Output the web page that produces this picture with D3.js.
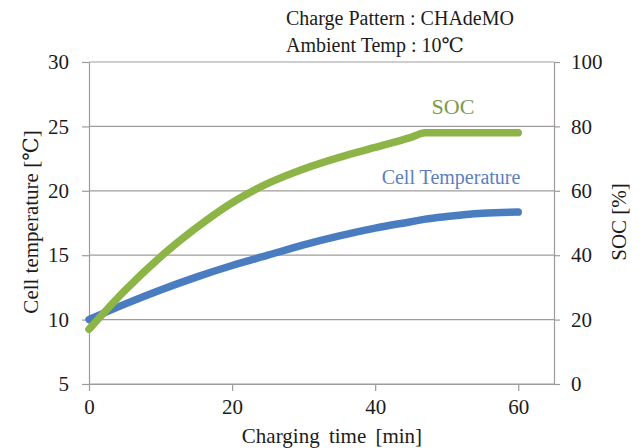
<!DOCTYPE html>
<html>
<head>
<meta charset="utf-8">
<script src="https://cdn.jsdelivr.net/npm/d3@7"></script>
<style>
  body { margin: 0; background: #fff; }
  text { font-family: "Liberation Serif", "DejaVu Serif", serif; fill: #1c1c1c; }
</style>
</head>
<body>
<div id="chart"></div>
<script>
// charging time [min]
const timeMin = [0, 5, 10, 15, 20, 25, 30, 35, 40, 45, 47, 50, 55, 60];
// SOC [%] (right axis)
const socPct = [17, 29, 39.5, 48.5, 56.3, 62.3, 66.8, 70.4, 73.5, 76.6, 78, 78, 78, 78];
// cell temperature [degC] (left axis)
const cellTemp = [10, 11.2, 12.3, 13.3, 14.2, 15.0, 15.8, 16.5, 17.1, 17.6, 17.8, 18.0, 18.25, 18.35];

const leftTicks = [5, 10, 15, 20, 25, 30];
const rightTicks = [0, 20, 40, 60, 80, 100];
const xTicks = [0, 20, 40, 60];

const W = 644, H = 448;
const margin = { top: 62, right: 90, bottom: 64, left: 89 };
const width = W - margin.left - margin.right;
const height = H - margin.top - margin.bottom;

const svg = d3.select('#chart').append('svg')
  .attr('width', W).attr('height', H);

const g = svg.append('g')
  .attr('transform', `translate(${margin.left},${margin.top})`);

const x = d3.scaleLinear().domain([0, 65]).range([0, width]);
const yL = d3.scaleLinear().domain([5, 30]).range([height, 0]);
const yR = d3.scaleLinear().domain([0, 100]).range([height, 0]);

const gridColor = '#9f9b9b';

// horizontal gridlines
g.selectAll('.grid')
  .data(leftTicks)
  .enter().append('line')
  .attr('x1', 0).attr('x2', width)
  .attr('y1', d => yL(d)).attr('y2', d => yL(d))
  .attr('stroke', gridColor).attr('stroke-width', 1.2);

function styleAxis(sel) {
  sel.attr('font-family', null);
  sel.select('.domain').attr('stroke', gridColor).attr('stroke-width', 1.2);
  sel.selectAll('.tick line').attr('stroke', gridColor).attr('stroke-width', 1.2);
  sel.selectAll('.tick text').attr('font-size', 21);
}

g.append('g')
  .call(d3.axisLeft(yL).tickValues(leftTicks).tickSize(7).tickSizeOuter(0).tickPadding(13))
  .call(styleAxis);

g.append('g')
  .attr('transform', `translate(${width},0)`)
  .call(d3.axisRight(yR).tickValues(rightTicks).tickSize(6).tickSizeOuter(0).tickPadding(11))
  .call(styleAxis);

g.append('g')
  .attr('transform', `translate(0,${height})`)
  .call(d3.axisBottom(x).tickValues(xTicks).tickSize(7).tickSizeOuter(0).tickPadding(8))
  .call(styleAxis);

const socLine = d3.line()
  .x((d, i) => x(timeMin[i]))
  .y(d => yR(d))
  .curve(d3.curveMonotoneX);

const tempLine = d3.line()
  .x((d, i) => x(timeMin[i]))
  .y(d => yL(d))
  .curve(d3.curveMonotoneX);

g.append('path')
  .datum(cellTemp)
  .attr('d', tempLine)
  .attr('fill', 'none')
  .attr('stroke', '#4a7cc0')
  .attr('stroke-width', 7.5)
  .attr('stroke-linecap', 'round');

g.append('path')
  .datum(socPct)
  .attr('d', socLine)
  .attr('fill', 'none')
  .attr('stroke', '#8db446')
  .attr('stroke-width', 7.5)
  .attr('stroke-linecap', 'round');

// series labels
svg.append('text')
  .attr('x', 453).attr('y', 114)
  .attr('text-anchor', 'middle')
  .attr('font-size', 22)
  .style('fill', '#7d9a4c')
  .text('SOC');

svg.append('text')
  .attr('x', 451).attr('y', 184)
  .attr('text-anchor', 'middle')
  .attr('font-size', 20)
  .style('fill', '#5b7fbd')
  .text('Cell Temperature');

// header
svg.append('text')
  .attr('x', 286).attr('y', 25)
  .attr('font-size', 20)
  .text('Charge Pattern : CHAdeMO');

svg.append('text')
  .attr('x', 286).attr('y', 52)
  .attr('font-size', 20)
  .text('Ambient Temp : 10℃');

// axis titles
svg.append('text')
  .attr('x', 332).attr('y', 443)
  .attr('text-anchor', 'middle')
  .attr('font-size', 21)
  .attr('word-spacing', 4)
  .text('Charging time [min]');

svg.append('text')
  .attr('transform', 'translate(38,222) rotate(-90)')
  .attr('text-anchor', 'middle')
  .attr('font-size', 21)
  .text('Cell temperature [℃]');

svg.append('text')
  .attr('transform', 'translate(626,222) rotate(-90)')
  .attr('text-anchor', 'middle')
  .attr('font-size', 21)
  .text('SOC [%]');
</script>
</body>
</html>
